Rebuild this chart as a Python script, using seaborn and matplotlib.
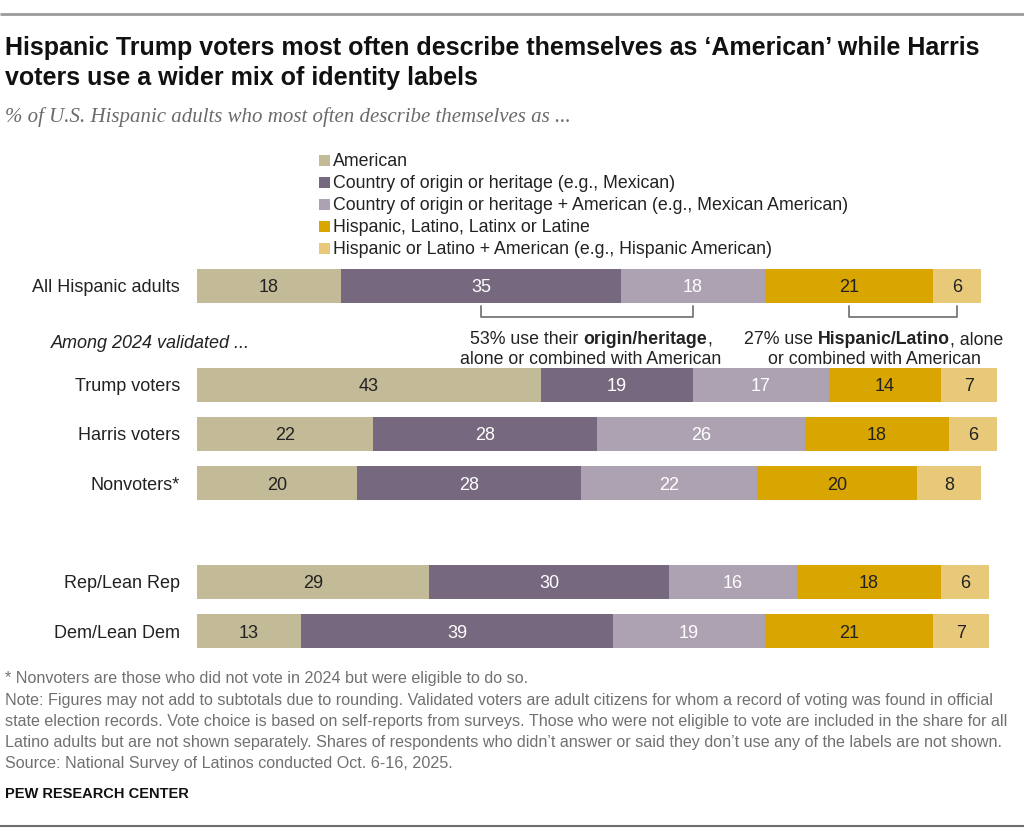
import matplotlib
matplotlib.use("Agg")
import matplotlib.pyplot as plt
import seaborn as sns
import pandas as pd
import numpy as np
from matplotlib.patches import Rectangle

# ---------------- data ----------------
groups = ["All Hispanic adults", "Trump voters", "Harris voters", "Nonvoters*",
          "Rep/Lean Rep", "Dem/Lean Dem"]
group_pos = [0, 2, 3, 4, 6, 7]
series = ["American",
          "Country of origin or heritage (e.g., Mexican)",
          "Country of origin or heritage + American (e.g., Mexican American)",
          "Hispanic, Latino, Latinx or Latine",
          "Hispanic or Latino + American (e.g., Hispanic American)"]
american = [18, 43, 22, 20, 29, 13]
origin = [35, 19, 28, 28, 30, 39]
origin_american = [18, 17, 26, 22, 16, 19]
hispanic = [21, 14, 18, 20, 18, 21]
hispanic_american = [6, 7, 6, 8, 6, 7]
colors = ["#C3BA98", "#76687E", "#ADA2B2", "#D9A500", "#E8C97A"]
label_colors = ["#222222", "white", "white", "#222222", "#222222"]

title_lines = ["Hispanic Trump voters most often describe themselves as \u2018American\u2019 while Harris",
               "voters use a wider mix of identity labels"]
subtitle = "% of U.S. Hispanic adults who most often describe themselves as ..."
notes = ["* Nonvoters are those who did not vote in 2024 but were eligible to do so.",
         "Note: Figures may not add to subtotals due to rounding. Validated voters are adult citizens for whom a record of voting was found in official",
         "state election records. Vote choice is based on self-reports from surveys. Those who were not eligible to vote are included in the share for all",
         "Latino adults but are not shown separately. Shares of respondents who didn\u2019t answer or said they don\u2019t use any of the labels are not shown.",
         "Source: National Survey of Latinos conducted Oct. 6-16, 2025."]

values = [american, origin, origin_american, hispanic, hispanic_american]

sns.set_theme(style="white")
plt.rcParams["font.family"] = ["Liberation Sans", "DejaVu Sans"]

W, H = 1024, 840
fig = plt.figure(figsize=(W / 100, H / 100), dpi=100)

# bar axes: x 197..997 px, rows 49.3px apart, row 0 centred at 286
unit = 49.3
top = 286 - 0.5 * unit
bottom = 631 + 0.5 * unit
ax = fig.add_axes([197 / W, 1 - bottom / H, 800 / W, (bottom - top) / H])

# long-format cumulative table
rows = []
cum = np.zeros(len(groups))
cums = []
for s, vals in zip(series, values):
    left = cum.copy()
    cum = cum + np.array(vals)
    cums.append((left, cum.copy()))
    for g, p, l, c, v in zip(groups, group_pos, left, cum, vals):
        rows.append(dict(group=g, pos=p, series=s, left=l, cum=c, value=v))
df = pd.DataFrame(rows)

# draw cumulative bars from the right-most series back (overlay = stacked)
for s, col in reversed(list(zip(series, colors))):
    sub = df[df.series == s]
    sns.barplot(data=sub, x="cum", y="pos", orient="h", native_scale=True,
                color=col, width=0.69, errorbar=None, saturation=1,
                linewidth=0, ax=ax)

for (s, lc) in zip(series, label_colors):
    sub = df[df.series == s]
    for _, r in sub.iterrows():
        ax.text(r.left + r.value / 2, r.pos, f"{r.value:.0f}", ha="center",
                va="center_baseline", fontsize=13, color=lc)

ax.set_xlim(0, 100)
ax.set_ylim(7.5, -0.5)
ax.set_axis_off()

# overlay axes in pixel coordinates
ov = fig.add_axes([0, 0, 1, 1], zorder=5)
ov.set_xlim(0, W)
ov.set_ylim(H, 0)
ov.set_axis_off()
ov.patch.set_alpha(0)

ov.plot([0, W], [14, 14], color="#9a9a9a", lw=2, solid_capstyle="butt")
ov.plot([0, W], [826, 826], color="#6e6e6e", lw=1.5, solid_capstyle="butt")

for y, t in zip([48, 78], title_lines):
    ov.text(5, y, t, fontsize=18, fontweight="bold", ha="left", va="center",
            color="#111111")
ov.text(5, 117, subtitle, fontsize=15, style="italic", ha="left", va="center",
        color="#6a6a6a", family=["Liberation Serif", "DejaVu Serif"])

# legend
for i, (s, c) in enumerate(zip(series, colors)):
    y = 160 + 22 * i
    ov.add_patch(Rectangle((319, y - 5.5), 11, 11, color=c, lw=0))
    ov.text(333, y, s, fontsize=12.8, ha="left", va="center_baseline", color="#222222")

# row labels
for g, p in zip(groups, group_pos):
    ov.text(180, 286 + p * unit, g, fontsize=13, ha="right", va="center_baseline",
            color="#222222")
ov.text(51, 342, "Among 2024 validated ...", fontsize=13, style="italic",
        ha="left", va="center_baseline", color="#222222")

# brackets under All Hispanic adults bar
def seg_center(si, gi=0):
    l = cums[si][0][gi]
    return 197 + 8 * (l + values[si][gi] / 2)

for a, b in [(1, 2), (3, 4)]:
    x1, x2 = seg_center(a), seg_center(b)
    ov.plot([x1, x1, x2, x2], [306, 317, 317, 306], color="#777777", lw=1.3)

fig.canvas.draw()
renderer = fig.canvas.get_renderer()

def mixed_line(cx, y, parts, size=12.8):
    # parts: list of (text, bold)
    widths = []
    for t, b in parts:
        tt = ov.text(0, 0, t, fontsize=size, fontweight="bold" if b else "normal")
        bb = tt.get_window_extent(renderer=renderer)
        widths.append(bb.width)
        tt.remove()
    total = sum(widths)
    x = cx - total / 2
    for (t, b), w in zip(parts, widths):
        ov.text(x, y, t, fontsize=size, fontweight="bold" if b else "normal",
                ha="left", va="center_baseline", color="#222222")
        x += w

mixed_line(591, 338, [("53% use their ", False), ("origin/heritage", True), (",", False)])
mixed_line(591, 358, [("alone or combined with American", False)])
mixed_line(874, 338, [("27% use ", False), ("Hispanic/Latino", True), (", alone", False)])
mixed_line(874, 358, [("or combined with American", False)])

# notes
for y, t in zip([677, 699, 720, 741, 762], notes):
    ov.text(5, y, t, fontsize=11.6, ha="left", va="center_baseline", color="#707070")
ov.text(5, 793, "PEW RESEARCH CENTER", fontsize=10.5, fontweight="bold",
        ha="left", va="center_baseline", color="#111111")

fig.savefig("out.png", dpi=100)
